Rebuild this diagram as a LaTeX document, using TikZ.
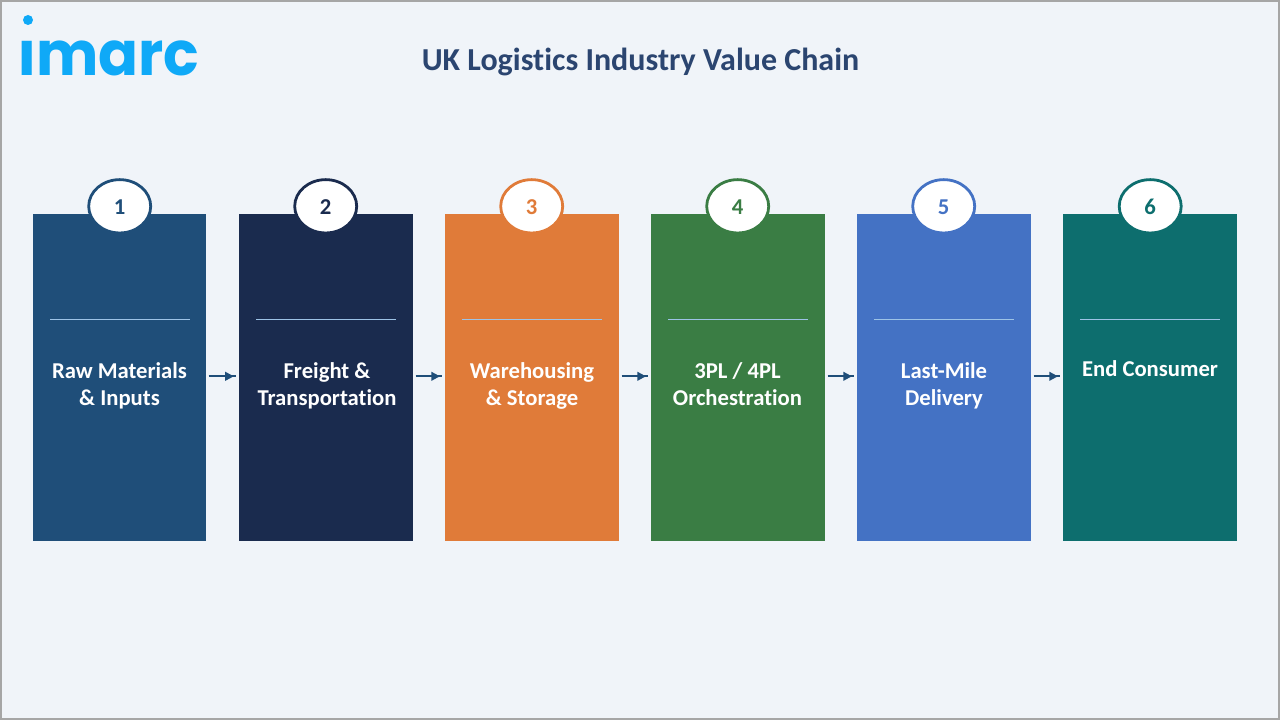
\documentclass[tikz,border=0pt]{standalone}
\usepackage{fontspec}
\setmainfont{Carlito}[Ligatures=NoCommon]
\newfontfamily\logofont{Poppins}
\usetikzlibrary{arrows.meta,decorations.markings,calc,shapes.geometric}
\definecolor{bgc}{HTML}{F0F4F9}
\definecolor{framec}{HTML}{A6A6A6}
\definecolor{titlec}{HTML}{2B4570}
\definecolor{logoc}{HTML}{0FA9F7}
\definecolor{ca}{HTML}{1F4E79}
\definecolor{cb}{HTML}{1A2B4E}
\definecolor{cc}{HTML}{E07B39}
\definecolor{cd}{HTML}{3A7D44}
\definecolor{ce}{HTML}{4472C4}
\definecolor{cf}{HTML}{0D6E6E}
\definecolor{rulec}{HTML}{9DC3E6}
\tikzset{
 x=0.75pt,y=-0.75pt,
 card/.style={fill=#1,draw=none,minimum width=130.5pt,minimum height=245.25pt,inner sep=0pt,anchor=north west},
 badge/.style={ellipse,fill=white,draw=#1,line width=2.1pt,minimum width=46.5pt,minimum height=40pt,inner sep=0pt,text=#1,font=\fontsize{17}{17}\selectfont\bfseries},
 lbl/.style={text=white,align=center,font=\fontsize{17}{20.25}\selectfont\bfseries,inner sep=0pt},
 flow/.style={draw=ca,line width=1.4pt,shorten <=1.5pt,shorten >=2.25pt,postaction={decorate},
   decoration={markings,mark=at position 0.84 with {\arrow{Triangle[length=6.5pt,width=6.5pt]}}}},
 rulel/.style={draw=rulec,line width=0.6pt},
}
\begin{document}
\begin{tikzpicture}
\useasboundingbox (0,0) rectangle (1280,720);
\fill[framec] (0,0) rectangle (1280,720);
\fill[bgc] (2,2) rectangle (1278,718);
\node[inner sep=0pt,text=logoc,anchor=base west,xscale=0.96,transform shape,font=\logofont\bfseries\fontsize{46}{46}\selectfont] (logo) at (18.5,76) {imarc};
\fill[bgc] (16,14) rectangle (40,39.5);
\fill[logoc] (28,20) circle[radius=5];
\node[text=titlec,font=\fontsize{24}{24}\selectfont\bfseries] (title) at (640.5,61.5) {UK Logistics Industry Value Chain};
\foreach \n/\x/\c/\w/\bx in {1/33/ca/129.75pt/119.7,2/239/cb/130.5pt/325.7,3/445/cc/130.5pt/531.7,4/651/cd/130.5pt/737.7,5/857/ce/130.5pt/943.7,6/1063/cf/130.5pt/1150.2}{
 \node[card=\c,minimum width=\w] (c\n) at (\x,214) {};
 \node[badge=\c] (b\n) at (\bx,206.3) {\raisebox{-6.2pt}[0pt][0pt]{\n}};
 \draw[rulel] (\x+17,319.5) -- (\x+157,319.5);
}
\foreach \n/\x/\y/\t in {1/119.5/385.5/{Raw Materials\\\& Inputs},2/327/385.5/{Freight \&\\Transportation},3/532/385.5/{Warehousing\\\& Storage},4/737.5/384/{3PL / 4PL\\Orchestration},5/944/385.5/{Last-Mile\\Delivery}}{
 \node[lbl] (t\n) at (\x,\y) {\t};
}
\node[lbl] (t6) at (1150,368.5) {End Consumer};
\foreach \a/\b in {1/2,2/3,3/4,4/5,5/6}{
 \draw[flow] ([yshift=1.1pt]c\a.east) -- ([yshift=1.1pt]c\b.west);
}
\end{tikzpicture}
\end{document}
